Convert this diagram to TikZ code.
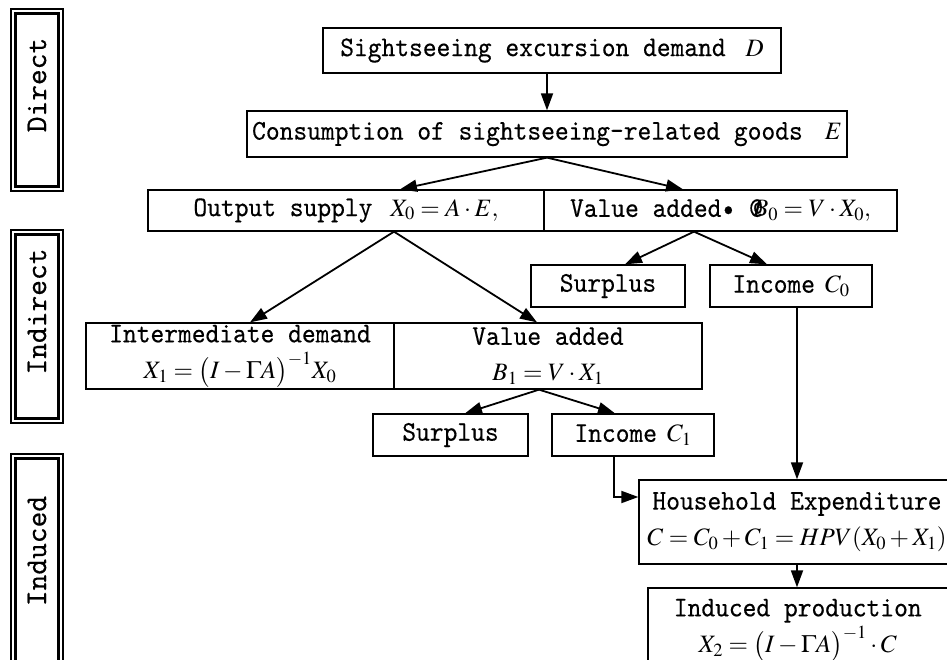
\documentclass[tikz,border=0pt]{standalone}
\usepackage{mathptmx}
\usepackage[no-math]{fontspec}
\newfontfamily\boxfont{lmmono10-regular}[Extension=.otf, FakeStretch=0.92, FakeBold=0.35]
\newfontfamily\sidefont{lmmono10-regular}[Extension=.otf, FakeBold=0.35]
\usetikzlibrary{arrows.meta}
\newcommand{\mth}[1]{{\fontsize{25}{30}\selectfont$#1$}}

\begin{document}
\begin{tikzpicture}[
    x=1pt, y=-1pt,
    box/.style={draw, line width=1.3pt, inner sep=0pt, align=center,
                font=\boxfont\fontsize{28.5}{36}\selectfont},
    side/.style={draw, line width=1.1pt, minimum width=52pt, inner sep=0pt},
    sidetxt/.style={rotate=90, font=\sidefont\fontsize{30}{32}\selectfont},
    arr/.style={-{Triangle[length=17pt,width=12pt]}, line width=1.8pt}
]
\useasboundingbox (0,0) rectangle (947,660);
% stage bars on the left
\node[side, minimum height=182pt] (direct) at (37,100) {};
\node[side, minimum height=193pt] (indirect) at (37,326.5) {};
\node[side, minimum height=224pt] (inducedbar) at (37,566) {};
\draw[line width=2.4pt] ([shift={(5,5)}]direct.north west) rectangle ([shift={(-5,-5)}]direct.south east);
\draw[line width=2.4pt] ([shift={(5,5)}]indirect.north west) rectangle ([shift={(-5,-5)}]indirect.south east);
\draw[line width=2.4pt] ([shift={(5,5)}]inducedbar.north west) rectangle ([shift={(-5,-5)}]inducedbar.south east);
\node[sidetxt] (directtxt) at ([yshift=15pt]direct.center) {Direct};
\node[sidetxt] (indirecttxt) at ([yshift=15pt]indirect.center) {Indirect};
\node[sidetxt] (inducedtxt) at ([yshift=15pt]inducedbar.center) {Induced};
% flow boxes
\node[box, minimum width=458pt, minimum height=45pt] (demand) at (552,50.5) {Sightseeing excursion demand\hspace{20pt}\mth{D}};
\node[box, minimum width=600pt, minimum height=46pt] (cons) at (547,134) {Consumption of sightseeing-related goods\hspace{22pt}\mth{E}};
\node[box, minimum width=396pt, minimum height=41pt] (output) at (346,210.5) {Output supply\hspace{18pt}\mth{X_0 = A\cdot E,}};
\node[box, minimum width=353pt, minimum height=41pt] (vadd0) at (720.5,210.5) {Value added\textbullet\hspace{14pt}@\kern-10pt\mth{B_0 = V\cdot X_0,}};
\node[box, minimum width=154pt, minimum height=42pt] (surplus0) at (608,286) {Surplus};
\node[box, minimum width=162pt, minimum height=42pt] (income0) at (791,286) {Income\hspace{10pt}\mth{C_0}};
\node[box, minimum width=308pt, minimum height=66pt] (interm) at (240,356) {Intermediate demand\\\mth{X_1 = \bigl(I - \Gamma A\bigr)^{-1} X_0}};
\node[box, minimum width=308pt, minimum height=66pt] (vadd1) at (548,356) {Value added\\\mth{B_1 = V\cdot X_1}};
\node[box, minimum width=155pt, minimum height=42pt] (surplus1) at (450.5,435) {Surplus};
\node[box, minimum width=162pt, minimum height=42pt] (income1) at (633,435) {Income\hspace{10pt}\mth{C_1}};
\node[box, minimum width=316pt, minimum height=84pt] (house) at (797,522) {Household Expenditure\\\mth{C = C_0 + C_1 = HPV(X_0 + X_1)}};
\node[box, minimum width=299.5pt, minimum height=84pt] (induced) at (797.75,630) {Induced production\\\mth{X_2 = \bigl(I - \Gamma A\bigr)^{-1}\cdot C}};
% connectors
\draw[arr] (cons.north |- demand.south) -- (cons.north);
\draw[arr] (cons.south) -- ([xshift=54pt]output.north);
\draw[arr] (cons.south) -- ([xshift=-37.5pt]vadd0.north);
\draw[arr] ([xshift=48pt]output.south) -- ([xshift=10pt]interm.north);
\draw[arr] ([xshift=48pt]output.south) -- ([xshift=-11pt]vadd1.north);
\draw[arr] ([xshift=-26.5pt]vadd0.south) -- ([xshift=17pt]surplus0.north);
\draw[arr] ([xshift=-26.5pt]vadd0.south) -- ([xshift=-24pt]income0.north);
\draw[arr] ([xshift=-9pt]vadd1.south) -- ([xshift=14.5pt]surplus1.north);
\draw[arr] ([xshift=-9pt]vadd1.south) -- ([xshift=-18pt]income1.north);
\draw[arr] ([xshift=-19pt]income1.south) |- ([yshift=25pt]house.west);
\draw[arr] (house.north |- income0.south) -- (house.north);
\draw[arr] (house.south) -- (house.south |- induced.north);
\end{tikzpicture}
\end{document}
